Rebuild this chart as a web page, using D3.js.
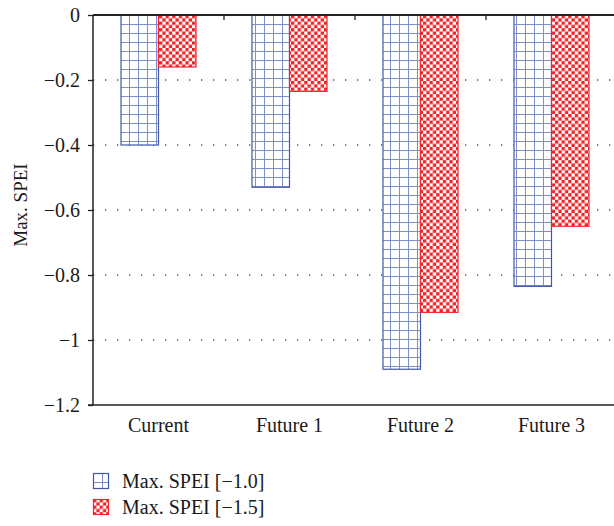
<!DOCTYPE html>
<html>
<head>
<meta charset="utf-8">
<script src="https://cdn.jsdelivr.net/npm/d3@7"></script>
<style>
  body { margin: 0; background: #fff; }
  svg { display: block; }
  text { font-family: "Liberation Serif", "DejaVu Serif", serif; fill: #1a1a1a; }
</style>
</head>
<body>
<script>
// chart data
var categories = ["Current", "Future 1", "Future 2", "Future 3"];
var seriesNames = ["Max. SPEI [\u22121.0]", "Max. SPEI [\u22121.5]"];
var spei10 = [-0.40, -0.53, -1.09, -0.835];
var spei15 = [-0.16, -0.235, -0.915, -0.65];
var yTicks = [0, -0.2, -0.4, -0.6, -0.8, -1, -1.2];
var yTickLabels = ["0", "\u22120.2", "\u22120.4", "\u22120.6", "\u22120.8", "\u22121", "\u22121.2"];

var svgWidth = 614, svgHeight = 526;
var margin = { top: 15, right: -3, bottom: 121, left: 93 };
var chartwidth = svgWidth - margin.left - margin.right;
var chartheight = svgHeight - margin.top - margin.bottom;

var svg = d3.select("body").append("svg")
  .attr("width", svgWidth)
  .attr("height", svgHeight);

// patterns
var defs = svg.append("defs");
var grid = defs.append("pattern")
  .attr("id", "gridPat")
  .attr("patternUnits", "userSpaceOnUse")
  .attr("width", 9).attr("height", 9)
  .attr("x", 0).attr("y", 0);
grid.append("rect").attr("width", 9).attr("height", 9).attr("fill", "#fff");
grid.append("path").attr("d", "M0,0.5H9M0.5,0V9")
  .attr("stroke", "#7f8fcc").attr("stroke-width", 1).attr("fill", "none");

var check = defs.append("pattern")
  .attr("id", "checkPat")
  .attr("patternUnits", "userSpaceOnUse")
  .attr("width", 6.6).attr("height", 6.6);
check.append("rect").attr("width", 6.6).attr("height", 6.6).attr("fill", "#fff");
check.append("rect").attr("width", 3.3).attr("height", 3.3).attr("fill", "#ee2226");
check.append("rect").attr("x", 3.3).attr("y", 3.3).attr("width", 3.3).attr("height", 3.3).attr("fill", "#ee2226");

var chartGroup = svg.append("g")
  .attr("transform", `translate(${margin.left}, ${margin.top})`);

// scales
var x0 = d3.scaleBand().domain(categories).range([0, chartwidth]);
var x1 = d3.scaleBand().domain([0, 1]).range([0, 75]);
var y = d3.scaleLinear().domain([-1.2, 0]).range([chartheight, 0]);

// dotted gridlines
chartGroup.selectAll(".grid")
  .data(yTicks.filter(d => d !== 0 && d !== -1.2))
  .enter().append("line")
  .attr("x1", 0).attr("x2", chartwidth)
  .attr("y1", d => y(d)).attr("y2", d => y(d))
  .attr("stroke", "#555")
  .attr("stroke-width", 1.3)
  .attr("stroke-dasharray", "1.3,10.7");

// bars
var fills = ["url(#gridPat)", "url(#checkPat)"];
var strokes = ["#3f58aa", "#f4252a"];
var series = [spei10, spei15];

series.forEach(function(vals, s) {
  chartGroup.selectAll(".bar" + s)
    .data(vals)
    .enter().append("rect")
    .attr("x", (d, i) => x0(categories[i]) + (x0.bandwidth() - 75) / 2 + x1(s))
    .attr("y", y(0))
    .attr("width", x1.bandwidth())
    .attr("height", d => y(d) - y(0))
    .attr("fill", fills[s])
    .attr("stroke", strokes[s])
    .attr("stroke-width", 1.2);
});

// axes
var leftAxis = d3.axisLeft(y).tickValues(yTicks).tickSize(5).tickPadding(8)
  .tickFormat((d, i) => yTickLabels[i]);
var yAxisG = chartGroup.append("g").call(leftAxis)
  .attr("font-family", "'Liberation Serif', serif")
  .attr("font-size", 20);
yAxisG.select(".domain").remove();
yAxisG.selectAll("line").attr("stroke", "#222").attr("stroke-width", 1.3);
yAxisG.selectAll("text")
  .attr("font-size", 20)
  .attr("fill", "#1a1a1a");

chartGroup.append("line")
  .attr("x1", 0).attr("x2", 0).attr("y1", 0).attr("y2", chartheight)
  .attr("stroke", "#222").attr("stroke-width", 1.5);

// top (zero) line and bottom line
chartGroup.append("line")
  .attr("x1", 0).attr("x2", chartwidth).attr("y1", y(0)).attr("y2", y(0))
  .attr("stroke", "#222").attr("stroke-width", 2);
chartGroup.append("line")
  .attr("x1", -5).attr("x2", chartwidth).attr("y1", y(-1.2)).attr("y2", y(-1.2))
  .attr("stroke", "#222").attr("stroke-width", 1.3);

// small ticks between categories on zero line
chartGroup.selectAll(".ctick")
  .data(categories.slice(1))
  .enter().append("line")
  .attr("x1", d => x0(d)).attr("x2", d => x0(d))
  .attr("y1", y(0)).attr("y2", y(0) + 5)
  .attr("stroke", "#222").attr("stroke-width", 1.3);

// category labels
chartGroup.selectAll(".clabel")
  .data(categories)
  .enter().append("text")
  .attr("x", d => x0(d) + x0.bandwidth() / 2)
  .attr("y", chartheight + 27)
  .attr("text-anchor", "middle")
  .style("font-size", "20px")
  .text(d => d);

// y label
svg.append("text")
  .attr("transform", `translate(27, 205) rotate(-90)`)
  .attr("text-anchor", "middle")
  .style("font-size", "19px")
  .text("Max. SPEI");

// legend
var legend = svg.append("g").attr("transform", "translate(93, 473)")
  .selectAll(".legends")
  .data(seriesNames)
  .enter().append("g")
  .attr("transform", (d, i) => `translate(0, ${i * 26})`);
legend.append("rect")
  .attr("x", 0.5).attr("y", 0.5)
  .attr("width", 15).attr("height", 15)
  .attr("fill", (d, i) => fills[i])
  .attr("stroke", (d, i) => strokes[i])
  .attr("stroke-width", 1.2);
legend.append("text")
  .attr("x", 29).attr("y", 15)
  .style("font-size", "20px")
  .text(d => d);
</script>
</body>
</html>
